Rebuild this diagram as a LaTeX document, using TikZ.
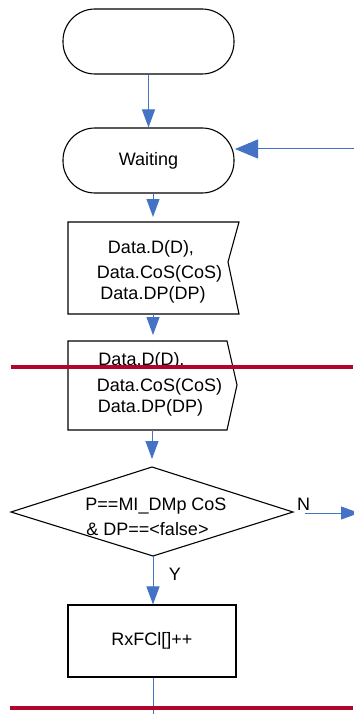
\documentclass[tikz,border=0pt]{standalone}
\usepackage{fontspec}
\setmainfont{Liberation Sans}
\usetikzlibrary{arrows.meta}
\definecolor{flowblue}{HTML}{4472C4}
\definecolor{cutred}{HTML}{B0062C}
\tikzset{
  outline/.style={draw=black, line width=1.1pt, line join=miter},
  flow/.style={draw=flowblue, line width=1pt, -{Triangle[length=18pt,width=13pt]}, color=flowblue},
  bigflow/.style={draw=flowblue, line width=1pt, -{Triangle[length=23pt,width=19pt]}, color=flowblue},
  plainflow/.style={draw=flowblue, line width=1pt},
  cut/.style={draw=cutred, line width=4pt},
  txt/.style={font=\fontsize{18}{22}\selectfont, inner sep=0pt, anchor=center},
  term/.style={outline, rounded corners=32pt, minimum width=171pt, minimum height=65pt, inner sep=0pt, font=\fontsize{18}{22}\selectfont}
}
\begin{document}
\begin{tikzpicture}[x=1pt,y=-1pt]
\useasboundingbox (0,0) rectangle (353,714);
\fill[white] (0,0) rectangle (353,714);

% terminals
\node[term] (start) at (148.5,41.5) {};
\node[term] (wait) at (148.5,160.5) {Waiting};

% box 1 (receive shape)
\coordinate (b1top) at (153,222);
\coordinate (b1bot) at (153,314);
\draw[outline] (68,222) -- (239,222) -- (228,262) -- (239,314) -- (68,314) -- cycle;
\node[txt] (b1l1) at (151,249) {Data.D(D),};
\node[txt] (b1l2) at (159.5,274) {Data.CoS(CoS)};
\node[txt] (b1l3) at (153,295) {Data.DP(DP)};

% box 2 (send shape)
\coordinate (b2top) at (153,341);
\coordinate (b2bot) at (152,430);
\draw[outline] (68,341) -- (227,341) -- (237,385) -- (227,430) -- (68,430) -- cycle;
\node[txt] (b2l1) at (141.5,361) {Data.D(D),};
\node[txt] (b2l2) at (159.5,387) {Data.CoS(CoS)};
\node[txt] (b2l3) at (150.5,408) {Data.DP(DP)};

% decision
\coordinate (dtop) at (152,467);
\coordinate (dright) at (293,512);
\coordinate (dbot) at (153,556);
\draw[outline] (152,467) -- (293,512) -- (153,556) -- (11,512) -- cycle;
\node[txt] (dl1) at (156,506) {P==MI\_DMp CoS};
\node[txt] (dl2) at (147.5,529) {\& DP==<false>};
\node[txt] (nlab) at (303.5,504) {N};
\node[txt] (ylab) at (175,574) {Y};

% process
\node[outline, minimum width=168pt, minimum height=72pt, inner sep=0pt, font=\fontsize{18}{22}\selectfont] (rx) at (152,641) {RxFCl[]++};

% connectors
\coordinate (loopin) at (360,149);
\coordinate (waitin) at (235,149);
\coordinate (nout) at (359,513);
\coordinate (nstart) at (305,513);
\coordinate (bottomend) at (153,720);

\draw[flow] (start.south) -- (wait.north);
\draw[bigflow] (loopin) -- (waitin);
\draw[flow] (wait.south -| b1top) -- ([yshift=5pt]b1top);
\draw[flow] (b1bot) -- ([yshift=6pt]b2top);
\draw[flow] (b2bot) -- ([yshift=8pt]dtop);
\draw[flow] (nstart) -- (nout);
\draw[flow] (dbot) -- (rx.north -| dbot);
\draw[plainflow] (rx.south -| bottomend) -- (bottomend);

% red cut lines
\draw[cut] (11,366.7) -- (353,366.7);
\draw[cut] (10,708) -- (353,708);
\end{tikzpicture}
\end{document}
